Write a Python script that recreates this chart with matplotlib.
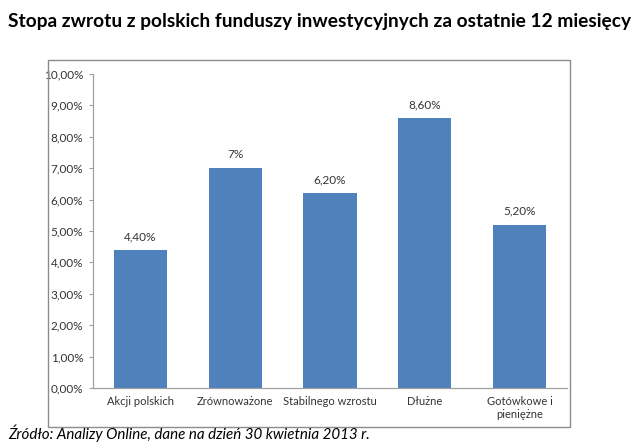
import matplotlib.pyplot as plt
from matplotlib.patches import Rectangle

categories = ["Akcji polskich", "Zrównoważone", "Stabilnego wzrostu",
              "Dłużne", "Gotówkowe i\npieniężne"]
values = [4.4, 7.0, 6.2, 8.6, 5.2]
value_labels = ["4,40%", "7%", "6,20%", "8,60%", "5,20%"]
y_ticks = [0, 1, 2, 3, 4, 5, 6, 7, 8, 9, 10]
y_tick_labels = ["%d,00%%" % v for v in y_ticks]

title = "Stopa zwrotu z polskich funduszy inwestycyjnych za ostatnie 12 miesięcy"
source = "Źródło: Analizy Online, dane na dzień 30 kwietnia 2013 r."


def main():
    plt.rcParams['font.family'] = ['Lato', 'DejaVu Sans']
    fig = plt.figure(figsize=(6.4, 4.47), dpi=100)
    W, H = 640, 447

    # outer chart frame (Excel style)
    fig.patches.append(Rectangle((48 / W, 1 - 427 / H), (570 - 48) / W,
                                 (427 - 60) / H, transform=fig.transFigure,
                                 fill=False, edgecolor="#8c8c8c", lw=1.0))

    ax = fig.add_axes([93 / W, 1 - 388 / H, (567 - 93) / W, (388 - 74) / H])
    x = range(len(categories))
    ax.bar(x, values, width=0.56, color="#4F81BD")
    for i, v in enumerate(values):
        ax.text(i, v + 0.25, value_labels[i], ha="center", va="bottom",
                fontsize=8.5, color="#333333")

    ax.set_xlim(-0.5, len(categories) - 0.5)
    ax.set_ylim(0, 10)
    ax.set_yticks(y_ticks)
    ax.set_yticklabels(y_tick_labels)
    ax.set_xticks(list(x))
    ax.set_xticklabels(categories)
    ax.tick_params(axis="y", labelsize=8.5, colors="#333333", length=3,
                   color="#a0a0a0", pad=4)
    ax.tick_params(axis="x", labelsize=8, colors="#333333", length=0,
                   pad=6)
    for side in ["top", "right"]:
        ax.spines[side].set_visible(False)
    for side in ["left", "bottom"]:
        ax.spines[side].set_color("#a0a0a0")
        ax.spines[side].set_linewidth(0.9)

    fig.text(0.5, 1 - 22 / H, title, ha="center", va="center",
             fontsize=13.8, fontweight="bold", color="black")
    fig.text(8 / W, 1 - 433 / H, source, ha="left", va="center",
             fontsize=10.9, style="italic", color="black")

    fig.savefig("out.png", dpi=100)


if __name__ == "__main__":
    main()
